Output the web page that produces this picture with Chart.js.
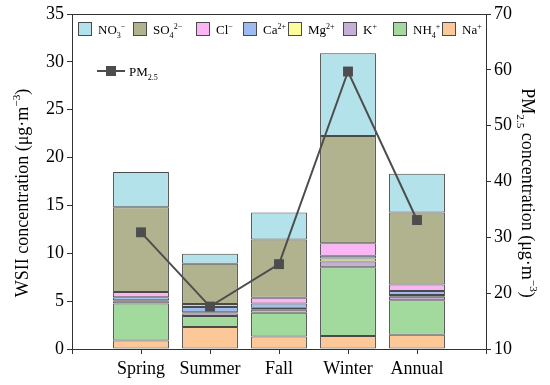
<!DOCTYPE html>
<html>
<head>
<meta charset="utf-8">
<script src="https://cdn.jsdelivr.net/npm/chart.js@4.4.1/dist/chart.umd.min.js"></script>
<style>
  body { margin: 0; background: #fff; }
  canvas { display: block; }
</style>
</head>
<body>
<canvas id="wsiiChart" width="550" height="385"></canvas>
<script>
// categories (empty slots at both ends give the full-step padding of the original axis)
const seasons = ['Spring', 'Summer', 'Fall', 'Winter', 'Annual'];

// ion concentrations, ug/m3 (stacked bottom -> top)
const na  = [0.9, 2.3, 1.3, 1.35, 1.5];
const nh4 = [3.85, 1.15, 2.5, 7.2, 3.6];
const k   = [0.25, 0.25, 0.3, 0.6, 0.35];
const mg  = [0.1, 0.15, 0.2, 0.3, 0.2];
const ca  = [0.3, 0.55, 0.45, 0.3, 0.4];
const cl  = [0.55, 0.3, 0.6, 1.3, 0.7];
const so4 = [8.85, 4.2, 6.1, 11.2, 7.5];
const no3 = [3.7, 1.05, 2.8, 8.65, 4.05];

// PM2.5, ug/m3 (right axis)
const pm25 = [30.9, 17.6, 25.2, 59.7, 33.1];

// tick settings
const leftTicks = { min: 0, max: 35, step: 5 };
const rightTicks = { min: 10, max: 70, step: 10 };

const pad = arr => [null, ...arr, null];
const labels = ['', ...seasons, ''];

const ions = [
  { data: na,  color: '#fdc897', parts: [['Na', ''], ['+', 'sup']] },
  { data: nh4, color: '#a2d99c', parts: [['NH', ''], ['4', 'sub'], ['+', 'sup']] },
  { data: k,   color: '#c4b0d6', parts: [['K', ''], ['+', 'sup']] },
  { data: mg,  color: '#fdfd9c', parts: [['Mg', ''], ['2+', 'sup']] },
  { data: ca,  color: '#9dbbef', parts: [['Ca', ''], ['2+', 'sup']] },
  { data: cl,  color: '#fcb5f4', parts: [['Cl', ''], ['−', 'sup']] },
  { data: so4, color: '#b1b38f', parts: [['SO', ''], ['4', 'sub'], ['2−', 'sup']] },
  { data: no3, color: '#b4e2ea', parts: [['NO', ''], ['3', 'sub'], ['−', 'sup']] }
];

const leftTitle = [['WSII concentration (μg·m', ''], ['−3', 'sup'], [')', '']];
const rightTitle = [['PM', ''], ['2.5', 'sub'], [' concentration (μg·m', ''], ['−3', 'sup'], [')', '']];

const serif = "'Liberation Serif', 'DejaVu Serif', serif";
const edge = '#4a4a4a';
const axisColor = '#333';

function drawParts(ctx, x, y, parts, size) {
  parts.forEach(([txt, kind]) => {
    let fs = size, dy = 0;
    if (kind === 'sub') { fs = size * 0.62; dy = size * 0.3; }
    if (kind === 'sup') { fs = size * 0.62; dy = -size * 0.42; }
    ctx.font = fs + 'px ' + serif;
    ctx.fillText(txt, x, y + dy);
    x += ctx.measureText(txt).width;
  });
  return x;
}

function partsWidth(ctx, parts, size) {
  let w = 0;
  parts.forEach(([txt, kind]) => {
    ctx.font = (kind ? size * 0.62 : size) + 'px ' + serif;
    w += ctx.measureText(txt).width;
  });
  return w;
}

const framePlugin = {
  id: 'frame',
  afterDraw(chart) {
    const { ctx, chartArea: a } = chart;
    ctx.save();
    // top border line of the plot box
    ctx.strokeStyle = axisColor;
    ctx.lineWidth = 1;
    ctx.beginPath();
    ctx.moveTo(a.left, Math.round(a.top) + 0.5);
    ctx.lineTo(a.right, Math.round(a.top) + 0.5);
    ctx.stroke();

    // legend row of ions, in reverse stack order
    ctx.textBaseline = 'alphabetic';
    const legendX = [78, 133, 196, 243, 288, 343, 393, 442];
    const boxY = 22, box = 13, size = 13;
    ions.slice().reverse().forEach((ion, i) => {
      const x = legendX[i];
      ctx.fillStyle = ion.color;
      ctx.fillRect(x + 0.5, boxY + 0.5, box, box);
      ctx.strokeStyle = edge;
      ctx.lineWidth = 1;
      ctx.strokeRect(x + 0.5, boxY + 0.5, box, box);
      ctx.fillStyle = '#000';
      drawParts(ctx, x + box + 7, boxY + 12, ion.parts, size);
    });

    // PM2.5 legend entry
    const ly = 71, lx = 97;
    ctx.strokeStyle = '#4d4d4d';
    ctx.lineWidth = 2;
    ctx.beginPath();
    ctx.moveTo(lx, ly);
    ctx.lineTo(lx + 28, ly);
    ctx.stroke();
    ctx.fillStyle = '#4d4d4d';
    ctx.fillRect(lx + 9, ly - 5, 10, 10);
    ctx.fillStyle = '#000';
    drawParts(ctx, lx + 32, ly + 5, [['PM', ''], ['2.5', 'sub']], size);

    // axis titles
    const tsize = 18;
    ctx.save();
    ctx.translate(28, 193);
    ctx.rotate(-Math.PI / 2);
    drawParts(ctx, -partsWidth(ctx, leftTitle, tsize) / 2, 0, leftTitle, tsize);
    ctx.restore();

    ctx.save();
    ctx.translate(522, 193);
    ctx.rotate(Math.PI / 2);
    drawParts(ctx, -partsWidth(ctx, rightTitle, tsize) / 2, 0, rightTitle, tsize);
    ctx.restore();

    ctx.restore();
  }
};

const barSets = ions.map(ion => ({
  type: 'bar',
  data: pad(ion.data),
  backgroundColor: ion.color,
  borderColor: edge,
  borderWidth: 1,
  borderSkipped: false,
  barPercentage: 1,
  categoryPercentage: 0.81,
  yAxisID: 'y',
  order: 2
}));

const pmSet = {
  type: 'line',
  data: pad(pm25),
  borderColor: '#4d4d4d',
  backgroundColor: '#4d4d4d',
  borderWidth: 2,
  pointStyle: 'rect',
  pointRadius: 7,
  pointBorderWidth: 0,
  spanGaps: false,
  yAxisID: 'y2',
  order: 1
};

const tickFont = { family: serif, size: 18 };

new Chart(document.getElementById('wsiiChart').getContext('2d'), {
  data: { labels: labels, datasets: [...barSets, pmSet] },
  options: {
    responsive: false,
    animation: false,
    devicePixelRatio: 1,
    layout: { padding: { top: 14, left: 0, right: 0, bottom: 0 } },
    plugins: { legend: { display: false }, tooltip: { enabled: false } },
    scales: {
      x: {
        stacked: true,
        offset: false,
        grid: { drawOnChartArea: false, offset: false, tickLength: 5, color: axisColor },
        border: { color: axisColor, width: 1 },
        ticks: { font: tickFont, color: '#000', padding: 4, maxRotation: 0, autoSkip: false },
        afterFit: s => { s.height = 36; }
      },
      y: {
        stacked: true,
        position: 'left',
        min: leftTicks.min,
        max: leftTicks.max,
        grid: { drawOnChartArea: false, tickLength: 5, color: axisColor },
        border: { color: axisColor, width: 1 },
        ticks: { stepSize: leftTicks.step, font: tickFont, color: '#000', padding: 3 },
        afterFit: s => { s.width = 72; }
      },
      y2: {
        stacked: false,
        position: 'right',
        min: rightTicks.min,
        max: rightTicks.max,
        grid: { drawOnChartArea: false, tickLength: 5, color: axisColor },
        border: { color: axisColor, width: 1 },
        ticks: { stepSize: rightTicks.step, font: tickFont, color: '#000', padding: 3 },
        afterFit: s => { s.width = 64; }
      }
    }
  },
  plugins: [framePlugin]
});
</script>
</body>
</html>
